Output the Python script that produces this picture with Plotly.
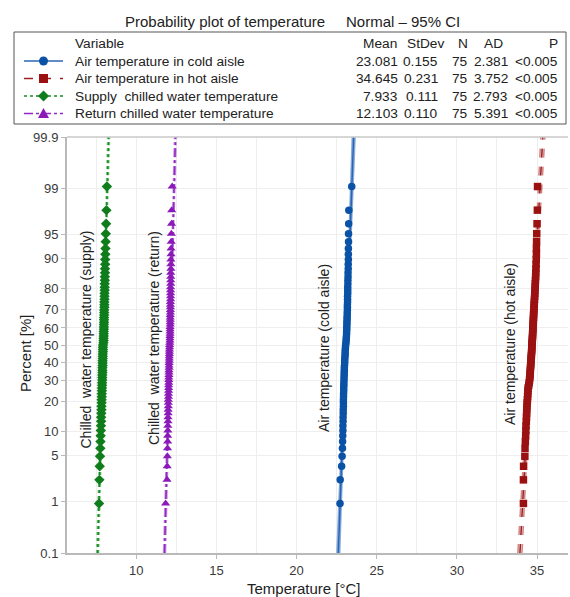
import numpy as np
import plotly.graph_objects as go
from statistics import NormalDist

# ---------------- data ----------------
series_names = ["Air temperature in cold aisle", "Air temperature in hot aisle",
                "Supply  chilled water temperature", "Return chilled water temperature"]
means = [23.081, 34.645, 7.933, 12.103]
stdevs = [0.155, 0.231, 0.111, 0.110]
n_obs = [75, 75, 75, 75]
ad_stats = [2.381, 3.752, 2.793, 5.391]
p_values = ["<0.005", "<0.005", "<0.005", "<0.005"]

cold_aisle = [22.71, 22.72, 22.81, 22.84, 22.86, 22.87, 22.88, 22.89, 22.89, 22.90,
              22.90, 22.91, 22.91, 22.92, 22.92, 22.92, 22.93, 22.93, 22.94, 22.94,
              22.95, 22.95, 22.96, 22.96, 22.97, 22.97, 22.98, 22.98, 22.99, 23.00,
              23.00, 23.01, 23.02, 23.03, 23.03, 23.04, 23.05, 23.06, 23.08, 23.09,
              23.10, 23.11, 23.12, 23.12, 23.13, 23.13, 23.14, 23.14, 23.15, 23.15,
              23.16, 23.16, 23.17, 23.17, 23.17, 23.18, 23.18, 23.18, 23.19, 23.19,
              23.19, 23.20, 23.20, 23.21, 23.21, 23.22, 23.22, 23.23, 23.23, 23.23,
              23.24, 23.24, 23.25, 23.26, 23.44]
hot_aisle = [34.15, 34.15, 34.16, 34.24, 34.25, 34.27, 34.29, 34.30, 34.31, 34.33,
             34.34, 34.35, 34.36, 34.37, 34.38, 34.40, 34.41, 34.42, 34.43, 34.44,
             34.48, 34.51, 34.53, 34.55, 34.56, 34.57, 34.58, 34.59, 34.60, 34.61,
             34.62, 34.63, 34.64, 34.65, 34.66, 34.67, 34.67, 34.68, 34.69, 34.70,
             34.71, 34.72, 34.72, 34.73, 34.74, 34.75, 34.75, 34.76, 34.77, 34.78,
             34.78, 34.79, 34.80, 34.81, 34.82, 34.83, 34.84, 34.85, 34.86, 34.87,
             34.88, 34.89, 34.90, 34.91, 34.92, 34.93, 34.94, 34.95, 34.96, 34.96,
             34.97, 34.98, 35.00, 35.02, 35.03]
supply_water = [7.68, 7.70, 7.72, 7.74, 7.76, 7.77, 7.78, 7.79, 7.80, 7.81,
                7.81, 7.82, 7.83, 7.83, 7.84, 7.84, 7.85, 7.85, 7.86, 7.86,
                7.87, 7.87, 7.88, 7.88, 7.88, 7.89, 7.89, 7.89, 7.90, 7.90,
                7.90, 7.91, 7.91, 7.91, 7.92, 7.92, 7.92, 7.93, 7.95, 7.96,
                7.96, 7.97, 7.97, 7.97, 7.98, 7.98, 7.98, 7.99, 7.99, 7.99,
                8.00, 8.00, 8.00, 8.01, 8.01, 8.01, 8.02, 8.02, 8.02, 8.03,
                8.03, 8.03, 8.04, 8.04, 8.05, 8.05, 8.06, 8.06, 8.07, 8.08,
                8.09, 8.10, 8.12, 8.14, 8.17]
return_water = [11.83, 11.92, 11.93, 11.94, 11.95, 11.96, 11.96, 11.97, 11.97, 11.98,
                11.98, 11.99, 11.99, 12.00, 12.00, 12.00, 12.01, 12.01, 12.02, 12.02,
                12.02, 12.03, 12.03, 12.03, 12.04, 12.04, 12.04, 12.05, 12.05, 12.05,
                12.06, 12.06, 12.06, 12.07, 12.07, 12.07, 12.08, 12.08, 12.09, 12.10,
                12.10, 12.10, 12.11, 12.11, 12.11, 12.11, 12.12, 12.12, 12.12, 12.12,
                12.12, 12.13, 12.13, 12.13, 12.13, 12.13, 12.14, 12.14, 12.14, 12.14,
                12.14, 12.15, 12.15, 12.15, 12.15, 12.16, 12.16, 12.16, 12.17, 12.17,
                12.18, 12.19, 12.20, 12.21, 12.24]

percent_ticks = [0.1, 1, 5, 10, 20, 30, 40, 50, 60, 70, 80, 90, 95, 99, 99.9]
percent_labels = ["0.1", "1", "5", "10", "20", "30", "40", "50", "60", "70", "80", "90", "95", "99", "99.9"]

samples = [cold_aisle, hot_aisle, supply_water, return_water]
plot_labels = ["Air temperature (cold aisle)", "Air temperature (hot aisle)",
               "Chilled  water temperature (supply)", "Chilled  water temperature (return)"]

# ---------------- styles ----------------
marker_colors = ["#0a52a6", "#9b1111", "#0f7d1c", "#8c1ab8"]
fit_colors = ["#2a64b4", "#a32020", "#178c22", "#9428c4"]
ci_colors = ["#86abdc", "#d08888", "#7fc784", "#c897e2"]
dashes = ["solid", "dash", "dot", "dashdot"]
symbols = ["circle", "square", "diamond", "triangle-up"]
msizes = [7.5, 7.5, 8, 8]

nd = NormalDist()
zmax = nd.inv_cdf(0.999)

fig = go.Figure()

zgrid = np.linspace(-zmax, zmax, 121)
for k in range(4):
    m, s, n = means[k], stdevs[k], n_obs[k]
    half = 1.96 * s * np.sqrt((1 + zgrid ** 2 / 2) / n)
    fit = m + s * zgrid
    for ci in (fit - half, fit + half):
        fig.add_trace(go.Scatter(x=ci, y=zgrid, mode="lines", hoverinfo="skip",
                                 line=dict(color=ci_colors[k], width=1.6, dash=dashes[k]),
                                 showlegend=False))
    fig.add_trace(go.Scatter(x=fit, y=zgrid, mode="lines", hoverinfo="skip",
                             line=dict(color=fit_colors[k], width=1.6, dash=dashes[k]),
                             showlegend=False))

for k in range(4):
    vals = sorted(samples[k])
    n = len(vals)
    zpos = [nd.inv_cdf((i + 1 - 0.3) / (n + 0.4)) for i in range(n)]
    fig.add_trace(go.Scatter(x=vals, y=zpos, mode="markers", name=series_names[k],
                             marker=dict(symbol=symbols[k], size=msizes[k], color=marker_colors[k],
                                         line=dict(width=0)),
                             showlegend=False))

# ---------------- layout ----------------
W, H = 570, 597
PL, PR, PT, PB = 67, 568, 137, 553


def xp(px):
    return (px - PL) / (PR - PL)


def yp(py):
    return (PB - py) / (PB - PT)


FONT = "Liberation Sans, Arial, sans-serif"
axis_common = dict(showline=True, linecolor="#b9b9b9", linewidth=2, ticks="outside",
                   ticklen=4, tickcolor="#b9b9b9", tickwidth=1,
                   tickfont=dict(size=13, color="#3a3a3a", family=FONT),
                   gridcolor="#eeeeee", gridwidth=1, zeroline=False)

fig.update_layout(
    width=W, height=H,
    margin=dict(l=PL, r=W - PR, t=PT, b=H - PB),
    paper_bgcolor="white", plot_bgcolor="white",
    font=dict(family=FONT, color="#222222"),
    xaxis=dict(range=[5.68, 36.93], tick0=0, dtick=5,
               minor=dict(dtick=2.5, showgrid=True, gridcolor="#eeeeee", ticks=""),
               **axis_common),
    yaxis=dict(range=[-zmax, zmax], tickvals=[nd.inv_cdf(p / 100) for p in percent_ticks],
               ticktext=percent_labels, **axis_common),
)

shapes = []
annotations = []

# plot top border
shapes.append(dict(type="line", xref="paper", yref="paper", x0=0, x1=1, y0=1, y1=1,
                   line=dict(color="#c8c8c8", width=1.5)))

# title
annotations.append(dict(text="Probability plot of temperature", xref="paper", yref="paper",
                        x=xp(123), y=yp(21), xanchor="left", yanchor="middle", showarrow=False,
                        font=dict(size=15, color="#222", family=FONT)))
annotations.append(dict(text="Normal – 95% CI", xref="paper", yref="paper",
                        x=xp(344), y=yp(21), xanchor="left", yanchor="middle", showarrow=False,
                        font=dict(size=15, color="#222", family=FONT)))

# legend box
shapes.append(dict(type="rect", xref="paper", yref="paper", x0=xp(14), x1=xp(566),
                   y0=yp(124), y1=yp(32), line=dict(color="#555555", width=1), fillcolor="rgba(0,0,0,0)"))

LF = 13.7
row_y = [61, 78.5, 96, 113.5]
head_y = 43.5
annotations.append(dict(text="Variable", xref="paper", yref="paper", x=xp(73), y=yp(head_y),
                        xanchor="left", yanchor="middle", showarrow=False,
                        font=dict(size=LF, color="#222", family=FONT)))
col_heads = ["Mean", "StDev", "N", "AD", "P"]
head_pos = [(380, "center"), (425, "center"), (463, "center"), (493, "center"), (560, "right")]
val_right = [400, 440, 470, 510, 560]
for h, (xr, anc) in zip(col_heads, head_pos):
    annotations.append(dict(text=h, xref="paper", yref="paper", x=xp(xr), y=yp(head_y),
                            xanchor=anc, yanchor="middle", showarrow=False,
                            font=dict(size=LF, color="#222", family=FONT)))

for k in range(4):
    yy = row_y[k]
    annotations.append(dict(text=series_names[k], xref="paper", yref="paper", x=xp(73), y=yp(yy),
                            xanchor="left", yanchor="middle", showarrow=False,
                            font=dict(size=LF, color="#222", family=FONT)))
    cells = [f"{means[k]:.3f}", f"{stdevs[k]:.3f}", f"{n_obs[k]}", f"{ad_stats[k]:.3f}", p_values[k]]
    for c, xr in zip(cells, val_right):
        annotations.append(dict(text=c, xref="paper", yref="paper", x=xp(xr), y=yp(yy),
                                xanchor="right", yanchor="middle", showarrow=False,
                                font=dict(size=LF, color="#222", family=FONT)))
    # legend line sample
    shapes.append(dict(type="line", xref="paper", yref="paper", x0=xp(24), x1=xp(63),
                       y0=yp(yy), y1=yp(yy), line=dict(color=fit_colors[k], width=1.6, dash=dashes[k])))
    cx, cy = 43.5, yy
    col = marker_colors[k]
    if symbols[k] == "circle":
        shapes.append(dict(type="circle", xref="paper", yref="paper", x0=xp(cx - 4.5), x1=xp(cx + 4.5),
                           y0=yp(cy + 4.5), y1=yp(cy - 4.5), fillcolor=col, line=dict(width=0)))
    elif symbols[k] == "square":
        shapes.append(dict(type="rect", xref="paper", yref="paper", x0=xp(cx - 4.5), x1=xp(cx + 4.5),
                           y0=yp(cy + 4.5), y1=yp(cy - 4.5), fillcolor=col, line=dict(width=0)))
    elif symbols[k] == "diamond":
        pts = [(cx, cy - 5.5), (cx + 5.5, cy), (cx, cy + 5.5), (cx - 5.5, cy)]
        path = "M " + " L ".join(f"{xp(a)},{yp(b)}" for a, b in pts) + " Z"
        shapes.append(dict(type="path", xref="paper", yref="paper", path=path, fillcolor=col, line=dict(width=0)))
    else:
        pts = [(cx, cy - 5.5), (cx + 5.5, cy + 4.5), (cx - 5.5, cy + 4.5)]
        path = "M " + " L ".join(f"{xp(a)},{yp(b)}" for a, b in pts) + " Z"
        shapes.append(dict(type="path", xref="paper", yref="paper", path=path, fillcolor=col, line=dict(width=0)))

# axis titles
annotations.append(dict(text="Percent [%]", xref="paper", yref="paper", x=xp(25), y=yp(353),
                        xanchor="center", yanchor="middle", textangle=-90, showarrow=False,
                        font=dict(size=15, color="#222", family=FONT)))
annotations.append(dict(text="Temperature [°C]", xref="paper", yref="paper", x=xp(304), y=yp(588),
                        xanchor="center", yanchor="middle", showarrow=False,
                        font=dict(size=15, color="#222", family=FONT)))

# in-plot rotated labels
label_pos = [(324, 348), (510, 344), (85.5, 340), (154, 338)]
for k in range(4):
    px_, py_ = label_pos[k]
    annotations.append(dict(text=plot_labels[k], xref="paper", yref="paper", x=xp(px_), y=yp(py_),
                            xanchor="center", yanchor="middle", textangle=-90, showarrow=False,
                            font=dict(size=14, color="#222", family=FONT)))

fig.update_layout(shapes=shapes, annotations=annotations)
fig.write_html("out.html", config={"displayModeBar": False},
               post_script="document.body.style.margin='0';document.body.style.padding='0';")
